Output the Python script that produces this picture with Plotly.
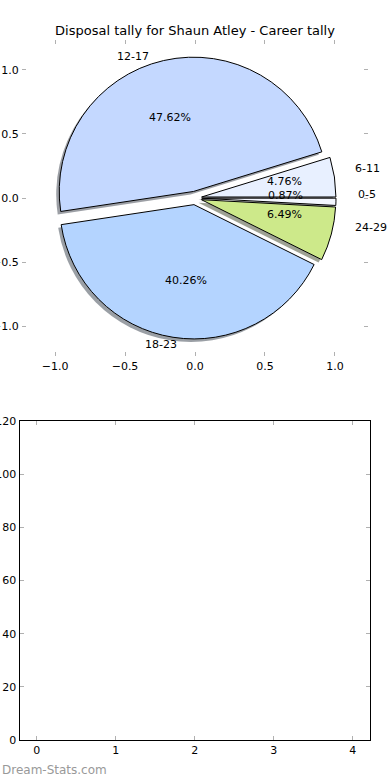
import numpy as np
import plotly.graph_objects as go

title = "Disposal tally for Shaun Atley - Career tally"
labels = ["0-5", "6-11", "12-17", "18-23", "24-29"]
counts = [2, 11, 110, 93, 15]
colors = ["#f4f7ff", "#e8f0ff", "#c4d8ff", "#b4d4ff", "#cde98a"]
explode = [0.05, 0.05, 0.05, 0.05, 0.05]
pie_ticks = [-1.0, -0.5, 0.0, 0.5, 1.0]
bar_xticks = [0, 1, 2, 3, 4]
bar_yticks = [0, 20, 40, 60, 80, 100, 120]

W, H = 390, 780
FONT = "DejaVu Sans"

def px_x(p):
    return p / W

def px_y(p):
    return 1 - p / H

vals = np.array(counts, dtype=float)
frac = vals / vals.sum()
theta2 = np.cumsum(frac) * 2 * np.pi
theta1 = theta2 - frac * 2 * np.pi
thetam = (theta1 + theta2) / 2
ex = np.array(explode)
cx = ex * np.cos(thetam)
cy = ex * np.sin(thetam)
lab_x = cx + 1.1 * np.cos(thetam)
lab_y = cy + 1.1 * np.sin(thetam)
pct_x = cx + 0.6 * np.cos(thetam)
pct_y = cy + 0.6 * np.sin(thetam)
pct_text = ["%.2f%%" % (f * 100) for f in frac]

fig = go.Figure()

# pie geometry (pixel box)
pcx, pcy, side = 195, 198, 282
shadow_cols = []
for c in colors:
    r = int(c[1:3], 16); g = int(c[3:5], 16); b = int(c[5:7], 16)
    shadow_cols.append("rgba(%d,%d,%d,0.5)" % (r * 0.3, g * 0.3, b * 0.3))

dx, dy = -3, 3
fig.add_trace(go.Pie(
    labels=labels, values=counts, sort=False, direction="counterclockwise",
    rotation=90, pull=explode, textinfo="none", hoverinfo="skip",
    marker=dict(colors=shadow_cols, line=dict(width=0)),
    domain=dict(x=[px_x(pcx - side / 2 + dx), px_x(pcx + side / 2 + dx)],
                y=[px_y(pcy + side / 2 + dy), px_y(pcy - side / 2 + dy)]),
    showlegend=False,
))
fig.add_trace(go.Pie(
    labels=labels, values=counts, sort=False, direction="counterclockwise",
    rotation=90, pull=explode, textinfo="none",
    marker=dict(colors=colors, line=dict(color="black", width=1)),
    domain=dict(x=[px_x(pcx - side / 2), px_x(pcx + side / 2)],
                y=[px_y(pcy + side / 2), px_y(pcy - side / 2)]),
    showlegend=False,
))

# empty traces to create both cartesian subplots
fig.add_trace(go.Scatter(x=[], y=[], xaxis="x", yaxis="y", showlegend=False))
fig.add_trace(go.Scatter(x=[], y=[], xaxis="x2", yaxis="y2", showlegend=False))

txtfont = dict(family=FONT, size=11, color="black")
annotations = []
for i in range(len(labels)):
    annotations.append(dict(
        text=labels[i], x=lab_x[i], y=lab_y[i], xref="x", yref="y",
        xanchor="left" if lab_x[i] > 0 else "right", yanchor="middle",
        showarrow=False, font=txtfont))
    annotations.append(dict(
        text=pct_text[i], x=pct_x[i], y=pct_y[i], xref="x", yref="y",
        xanchor="center", yanchor="middle", showarrow=False, font=txtfont))
annotations.append(dict(text="Dream-Stats.com", x=0, y=px_y(770), xref="paper",
                        yref="paper", xanchor="left", yanchor="middle", showarrow=False,
                        font=dict(family=FONT, size=12, color="#999999")))

tickfont = dict(family=FONT, size=11, color="black")
common = dict(ticks="inside", ticklen=4, tickcolor="#b0b0b0", showgrid=False,
              zeroline=False, showline=True, mirror="allticks", tickfont=tickfont,
              automargin=False, fixedrange=True)
ptext = ["\u22121.0", "\u22120.5", "0.0", "0.5", "1.0"]
fig.update_layout(
    width=W, height=H, margin=dict(l=0, r=0, t=0, b=0, autoexpand=False),
    paper_bgcolor="white", plot_bgcolor="rgba(0,0,0,0)",
    title=dict(text=title, x=0.5, xanchor="center", y=px_y(30), yanchor="middle",
               font=dict(family=FONT, size=13, color="black")),
    xaxis=dict(domain=[px_x(22), px_x(368)], range=[-1.236, 1.236],
               tickvals=pie_ticks, ticktext=ptext, linecolor="rgba(0,0,0,0)",
               anchor="y", **common),
    yaxis=dict(domain=[px_y(356), px_y(40)], range=[-1.234, 1.234],
               tickvals=pie_ticks, ticktext=ptext, linecolor="rgba(0,0,0,0)",
               anchor="x", **common),
    xaxis2=dict(domain=[px_x(19.5), px_x(370)], range=[-0.22, 4.22],
                tickvals=bar_xticks, linecolor="black", linewidth=1,
                anchor="y2", **common),
    yaxis2=dict(domain=[px_y(740), px_y(421)], range=[0, 120],
                tickvals=bar_yticks, linecolor="black", linewidth=1,
                anchor="x2", **common),
    annotations=annotations,
)

fig.write_html("out.html", config={"displayModeBar": False},
               post_script="document.body.style.margin='0px';document.body.style.overflow='hidden';")
